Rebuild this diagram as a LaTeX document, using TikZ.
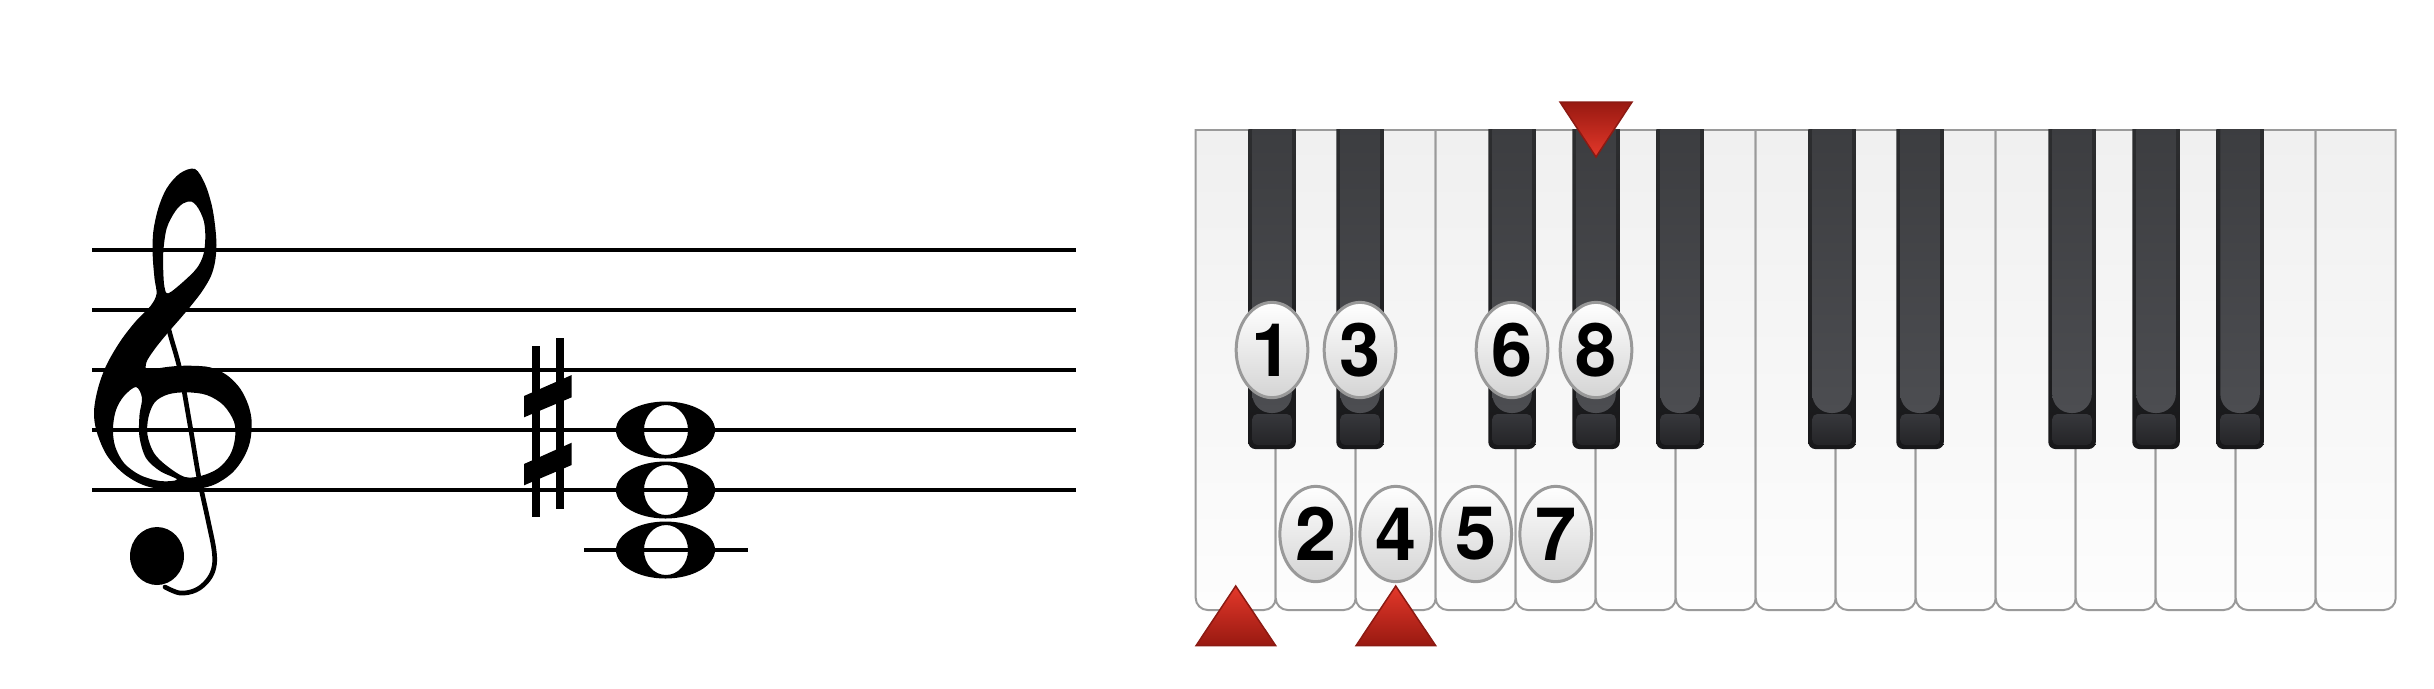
\documentclass[tikz,border=0pt]{standalone}
\usepackage{fontspec}
\setmainfont{TeX Gyre Heros}
\usetikzlibrary{shapes.geometric}
\definecolor{keyline}{HTML}{9A9A9A}
\definecolor{wtop}{HTML}{EFEFEF}
\definecolor{wbot}{HTML}{FDFDFD}
\definecolor{bouttop}{HTML}{2E2F31}
\definecolor{boutbot}{HTML}{18181A}
\definecolor{paneltop}{HTML}{3A3B3E}
\definecolor{panelbot}{HTML}{4C4D51}
\definecolor{fronttop}{HTML}{37383C}
\definecolor{frontbot}{HTML}{242427}
\definecolor{fingline}{HTML}{999999}
\definecolor{fingbot}{HTML}{D4D4D4}
\definecolor{trilight}{HTML}{E4382A}
\definecolor{tridark}{HTML}{981911}
\definecolor{triborder}{HTML}{8B1A13}
\begin{document}
\begin{tikzpicture}[x=0.1mm,y=-0.1mm,
  staffline/.style={line width=0.4mm,black},
  wkey/.style={draw=keyline,line width=0.2mm,rounded corners=1.2mm,top color=wtop,bottom color=wbot},
  bkouter/.style={rounded corners=0.7mm,top color=bouttop,bottom color=boutbot},
  bkpanel/.style={rounded corners=1.9mm,top color=paneltop,bottom color=panelbot},
  bkfront/.style={rounded corners=0.5mm,top color=fronttop,bottom color=frontbot},
  fing/.style={ellipse,draw=fingline,line width=0.3mm,minimum width=7.17mm,minimum height=9.53mm,
    inner sep=0pt,top color=white,bottom color=fingbot,text=black,
    font=\fontsize{21pt}{22pt}\selectfont\bfseries},
  tri/.style={draw=triborder,line width=0.15mm,line join=miter}]
\useasboundingbox[fill=white] (0,0) rectangle (2434,688);

% ---------------- staff ----------------
\foreach \sy in {250,310,370,430,490}{\draw[staffline] (92,\sy) -- (1076,\sy);}
\draw[staffline] (584,550) -- (748.3,550);

% treble clef
\fill[black,even odd rule]
  plot[smooth cycle,tension=0.55] coordinates {
    (195,169) (205,184) (211.7,205) (215,225) (216.5,245) (215,262) (211,276)
    (203,290) (194,302) (182,316.5) (168.5,332) (155.5,348) (146.5,362)
    (147,371) (157,368.5) (173.3,366.3) (190,365.7) (210,367.3) (226.7,375)
    (240,388.3) (248.3,405) (251.7,421.7) (250,441.7) (243.3,458.3) (231.7,473.3)
    (213.3,485) (190,490) (166.7,490) (143.3,485) (123.3,473.3) (106.7,455)
    (96.7,431.7) (94,411.7) (98,388.3) (106.5,365) (120.5,341) (136,321)
    (150.5,306) (156.5,294) (154.5,278.3) (152.7,255) (153.3,231.7) (158.3,208.3)
    (166.7,188.3) (180,173.3)}
  plot[smooth cycle,tension=0.55] coordinates {
    (191.7,201.7) (198.3,208.3) (204,221.7) (205.3,238.3) (203.3,255) (196.7,268.3)
    (183.3,281.7) (168.3,293.3) (164.5,287) (163.3,271.7) (163.3,251.7) (166.7,228.3)
    (175,211.7) (183.3,203.3)}
  plot[smooth cycle,tension=0.55] coordinates {
    (186.7,392.3) (206.7,395) (223.3,405) (234,421.7) (235,438.3) (230,455)
    (218.3,468.3) (201.7,475.7) (185,477) (167,466) (154,453) (147.5,435)
    (148.5,417) (155,402) (168.3,394.3)}
  plot[smooth cycle,tension=0.55] coordinates {
    (136,387) (142,398) (139.5,415) (139.5,437) (146,458) (160,471) (177,479.5)
    (160,481) (140,475) (124,463) (115,446) (113,428) (116,410) (124,396)};
\draw[line width=0.47mm,line cap=round] plot[smooth,tension=0.6] coordinates {
  (160,290) (169,330) (180,370) (190,425) (199,478) (208,520) (214,550)
  (214,567) (208,580) (196,590) (180,593) (165,587)};
\fill[black] (157,556) ellipse [x radius=2.7mm,y radius=2.9mm];

% sharp
\fill[black] (532.3,346) rectangle (540,517.3);
\fill[black] (556,338.3) rectangle (564,509.3);
\fill[black] (524,396) -- (571.7,375) -- (571.7,397.3) -- (524,417.3) -- cycle;
\fill[black] (524,464) -- (571.7,442.7) -- (571.7,465) -- (524,485.3) -- cycle;

% whole notes
\foreach \ny in {430,490,550}{
  \fill[black,even odd rule] (665.5,\ny) ellipse [x radius=4.95mm,y radius=2.85mm]
    (666,\ny) ellipse [x radius=2.2mm,y radius=2.5mm];}

% ---------------- keyboard ----------------
\begin{scope}
  \clip (1190,129.5) rectangle (2402,620);
  \foreach \i in {0,...,14}{
    \path[wkey] ({1195.7+80*\i},100) rectangle ({1275.7+80*\i},610);}
\end{scope}
\draw[keyline,line width=0.2mm] (1195.7,130) -- (2395.7,130);

\begin{scope}
  \clip (1190,129) rectangle (2402,620);
  \foreach \b in {1248.3,1336.3,1488.3,1572.3,1656.3,1808.3,1896.3,2048.3,2132.3,2216.3}{
    \path[bkouter] (\b,100) rectangle ({\b+47.5},449);
    \path[bkpanel] ({\b+4},90) rectangle ({\b+43.5},413);
    \path[bkfront] ({\b+4},414) rectangle ({\b+43.5},445);}
\end{scope}

% fingering numbers
\node[fing] (f1) at (1272,350) {1};
\node[fing] (f3) at (1360,350) {3};
\node[fing] (f6) at (1512,350) {6};
\node[fing] (f8) at (1596,350) {8};
\node[fing] (f2) at (1315.7,534) {2};
\node[fing] (f4) at (1395.7,534) {4};
\node[fing] (f5) at (1475.7,534) {5};
\node[fing] (f7) at (1555.7,534) {7};

% markers
\path[tri,top color=trilight,bottom color=tridark] (1235.7,586) -- (1275.7,645.7) -- (1196,645.7) -- cycle;
\path[tri,top color=trilight,bottom color=tridark] (1395.7,586) -- (1435.7,645.7) -- (1356,645.7) -- cycle;
\path[tri,top color=tridark,bottom color=trilight] (1560,102) -- (1632,102) -- (1596,157) -- cycle;
\end{tikzpicture}
\end{document}
